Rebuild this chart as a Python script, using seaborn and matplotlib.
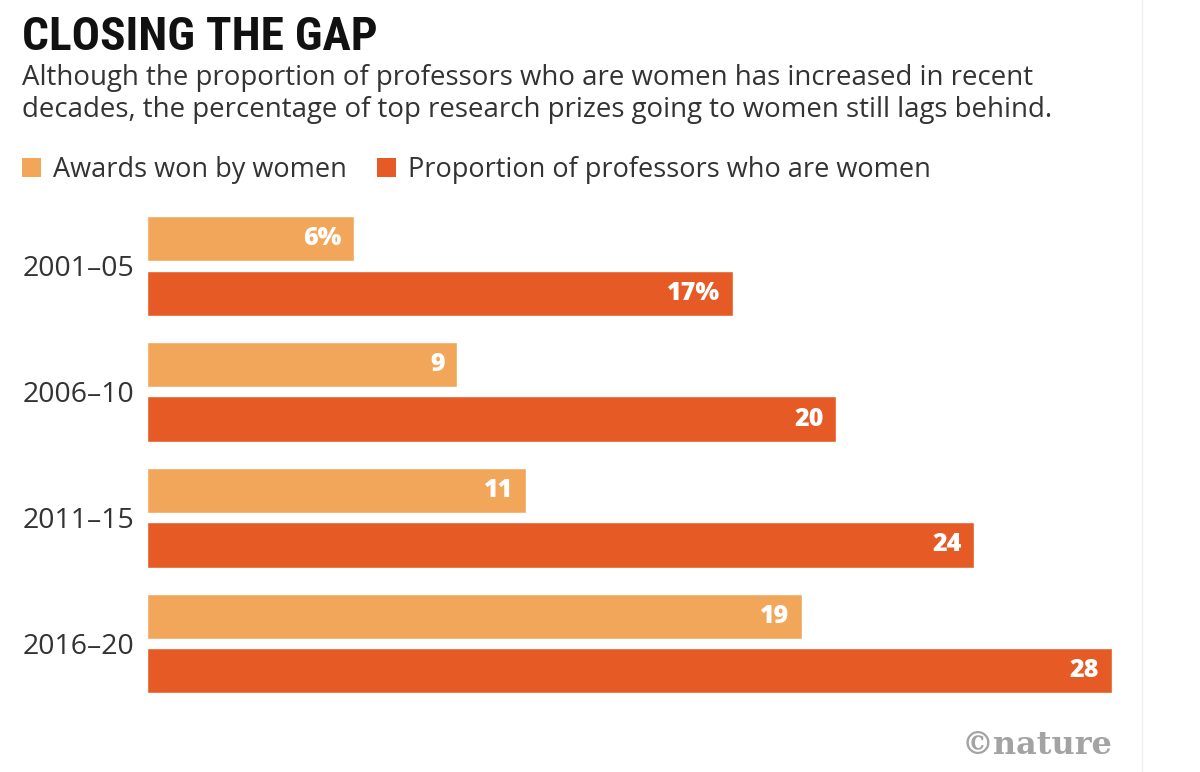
import pandas as pd
import matplotlib.pyplot as plt
import seaborn as sns
from matplotlib.patches import Patch
from matplotlib.lines import Line2D

sns.set_theme(style="white")
plt.rcParams["font.family"] = ["Open Sans", "DejaVu Sans"]

# dati
periodi = ["2001–05", "2006–10", "2011–15", "2016–20"]
premi_donne = [6, 9, 11, 19]
prof_donne = [17, 20, 24, 28]
serie = ["Awards won by women", "Proportion of professors who are women"]
colori = ["#F2A65A", "#E55A25"]

df = pd.DataFrame({
    "periodo": periodi * 2,
    "valore": premi_donne + prof_donne,
    "serie": [serie[0]] * 4 + [serie[1]] * 4,
})

fig = plt.figure(figsize=(12, 7.72), dpi=100)
ax = fig.add_axes([0.1225, 0.085, 0.804, 0.652])

sns.barplot(data=df, y="periodo", x="valore", hue="serie", orient="h",
            palette=colori, width=0.866, gap=0.167, saturation=1,
            legend=False, ax=ax)

ax.set_xlim(0, 28)
ax.set_ylim(3.5, -0.5)
ax.set_xlabel("")
ax.set_ylabel("")
ax.set_xticks([])
sns.despine(ax=ax, left=True, bottom=True)
ax.tick_params(axis="y", length=0, pad=9, labelsize=20.5, labelcolor="#333333")

# etichette bianche dentro le barre (solo la prima con il %)
for cont in ax.containers:
    etichette = [f"{v:g}" for v in cont.datavalues]
    etichette[0] += "%"
    testi = ax.bar_label(cont, labels=etichette, padding=-9, color="white",
                         fontsize=18, fontweight="heavy")
    for t in testi:
        t.set_ha("right")

# titolo e sottotitolo
fig.text(0.018, 0.935, "CLOSING THE GAP", fontsize=34, fontweight="bold",
         family=["Roboto Condensed", "Liberation Sans Narrow", "DejaVu Sans Condensed",
                 "DejaVu Sans"],
         fontstretch="condensed", color="#111111", va="baseline")
fig.text(0.018, 1 - 85 / 772,
         "Although the proportion of professors who are women has increased in recent",
         fontsize=19.9, color="#333333", va="baseline")
fig.text(0.018, 1 - 117 / 772,
         "decades, the percentage of top research prizes going to women still lags behind.",
         fontsize=19.9, color="#333333", va="baseline")

# legenda
maniglie = [Patch(facecolor=c, edgecolor="none") for c in colori]
fig.legend(maniglie, serie, loc="upper left", bbox_to_anchor=(-0.002, 1 - 132 / 772),
           ncol=2, frameon=False, fontsize=19.5, handlelength=0.7, handleheight=0.7,
           handletextpad=0.45, columnspacing=1.1, labelcolor="#333333")

# logo
fig.text(0.927, 1 - 754 / 772, "©nature", fontsize=23, fontweight="bold",
         family=["DejaVu Serif"], color="#A3A3A3", ha="right", va="baseline")

fig.add_artist(Line2D([1142 / 1200] * 2, [0, 1], color="#EEEEEE", lw=1))

fig.savefig("out.png", dpi=100, facecolor="white")
